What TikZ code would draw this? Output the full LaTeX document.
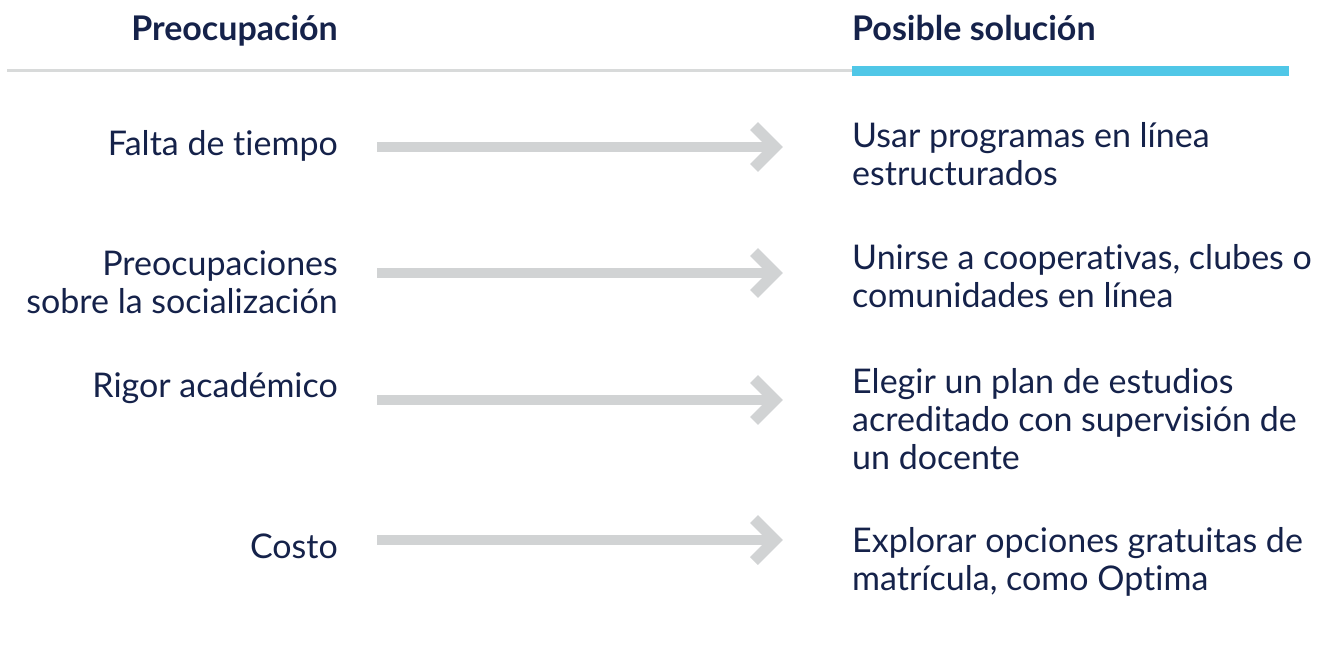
\documentclass[tikz,border=0pt]{standalone}
\usepackage{fontspec}
\setmainfont{Lato}[Ligatures=NoCommon]
\usetikzlibrary{calc}
\definecolor{navy}{HTML}{15224A}
\definecolor{arrowgray}{HTML}{D1D3D4}
\definecolor{rulegray}{HTML}{D8DADA}
\definecolor{accent}{HTML}{50C7E7}
\begin{document}
\begin{tikzpicture}[x=1pt,y=-1pt,
  bodyfont/.style={font=\fontsize{34}{38}\selectfont},
  concern/.style={bodyfont, anchor=north east, inner sep=0pt, text=navy, align=right},
  solution/.style={bodyfont, anchor=north west, inner sep=0pt, text=navy, align=left},
  header/.style={font=\fontsize{34}{38}\selectfont\bfseries, inner sep=0pt, text=navy},
  shaft/.style={draw=arrowgray, line width=10pt},
  chevron/.style={draw=arrowgray, line width=11pt, line join=miter},
]
\useasboundingbox (0,0) rectangle (1324,665);

% headers
\node[header, anchor=base east] (hleft) at (338,40) {Preocupación};
\node[header, anchor=base west] (hright) at (852,40) {Posible solución};
\coordinate (rulestart) at (7,70.5);
\coordinate (rulemid) at (852,70.5);
\coordinate (ruleend) at (1289,70.5);
\draw[rulegray, line width=2.5pt] (rulestart) -- (rulemid);
\draw[accent, line width=10pt] (rulemid) -- (ruleend);

% concerns
\node[concern] (c1) at (338,128.4) {\strut Falta de tiempo};
\node[concern] (c2) at (338,248.4) {\strut Preocupaciones\\sobre la socialización};
\node[concern] (c3) at (338,370.4) {\strut Rigor académico};
\node[concern] (c4) at (338,531.4) {\strut Costo};

% solutions
\node[solution] (s1) at (852,120.4) {\strut Usar programas en línea\\estructurados};
\node[solution] (s2) at (852,242.4) {\strut Unirse a cooperativas, clubes o\\comunidades en línea};
\node[solution] (s3) at (852,366.4) {\strut Elegir un plan de estudios\\acreditado con supervisión de\\un docente};
\node[solution] (s4) at (852,525.4) {\strut Explorar opciones gratuitas de\\matrícula, como Optima};

% arrows
\foreach \i/\y in {1/147,2/273,3/400,4/540}{
  \coordinate (a\i s) at (377,\y);
  \coordinate (a\i t) at (783,\y);
  \draw[shaft] (a\i s) -- ($(a\i t)+(-14,0)$);
  \draw[chevron] ($(a\i t)+(-29,-21)$) -- ($(a\i t)+(-8,0)$) -- ($(a\i t)+(-29,21)$);
}
\end{tikzpicture}
\end{document}
